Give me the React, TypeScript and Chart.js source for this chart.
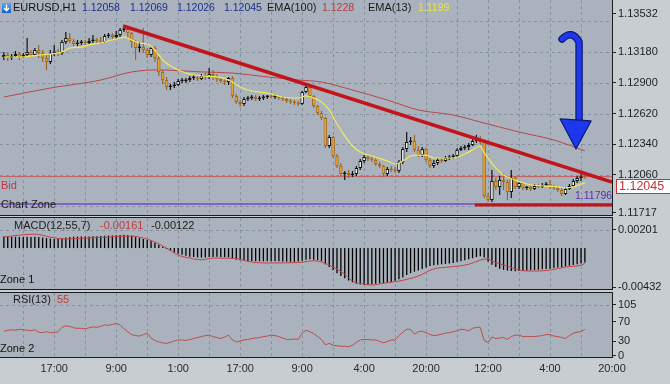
import { useEffect, useRef } from 'react';
import { Chart, registerables } from 'chart.js';

Chart.register(...registerables);

// ---------------- data ----------------
const X_MIN = 0;
const X_MAX = 158;

const timeLabels = ['17:00', '9:00', '1:00', '17:00', '9:00', '4:00', '20:00', '12:00', '4:00', '20:00'];
const timeLabelIdx = [14, 30, 46, 62, 78, 94, 110, 126, 142, 158];
const gridIdx = [6, 14, 22, 30, 38, 46, 54, 62, 70, 78, 86, 94, 102, 110, 118, 126, 134, 142, 150, 158];

const openP = [
  1.13136, 1.13154, 1.13127, 1.13145, 1.13164, 1.13136, 1.13154, 1.13182, 1.13154, 1.132,
  1.13173, 1.13127, 1.13091, 1.13173, 1.13182, 1.13173, 1.13273, 1.13309, 1.13282, 1.13255,
  1.13264, 1.13273, 1.13264, 1.13282, 1.13291, 1.13282, 1.13273, 1.13328, 1.13337, 1.13319,
  1.13337, 1.13382, 1.13392, 1.13355, 1.13273, 1.13218, 1.13227, 1.132, 1.13154, 1.13218,
  1.13127, 1.13, 1.12926, 1.12863, 1.12872, 1.12881, 1.12917, 1.12917, 1.12926, 1.12945,
  1.12945, 1.12936, 1.12963, 1.12954, 1.12981, 1.12963, 1.12936, 1.12917, 1.12908, 1.12945,
  1.12781, 1.12726, 1.12708, 1.12753, 1.12762, 1.12771, 1.12753, 1.12762, 1.12771, 1.12781,
  1.12771, 1.12781, 1.12762, 1.12753, 1.12735, 1.12726, 1.12717, 1.12708, 1.12817, 1.12863,
  1.12781, 1.12689, 1.12625, 1.1258, 1.12324, 1.12406, 1.12233, 1.12142, 1.12069, 1.12078,
  1.1206, 1.12069, 1.12124, 1.12188, 1.12224, 1.12206, 1.12197, 1.1216, 1.12142, 1.12069,
  1.12115, 1.12106, 1.12097, 1.12179, 1.12297, 1.12361, 1.1237, 1.12288, 1.12242, 1.12297,
  1.12197, 1.12142, 1.1217, 1.12197, 1.12188, 1.12215, 1.12224, 1.12233, 1.12288, 1.12306,
  1.12315, 1.12334, 1.1237, 1.12379, 1.12361, 1.11869, 1.11832, 1.12005, 1.11951, 1.12014,
  1.11996, 1.11905, 1.12033, 1.11951, 1.11987, 1.11942, 1.11951, 1.11932, 1.1196, 1.11951,
  1.11969, 1.11978, 1.11951, 1.11942, 1.11923, 1.11887, 1.11932, 1.1196, 1.12005, 1.12033,
  1.12058,
];
const highP = [
  1.13182, 1.13173, 1.13164, 1.13191, 1.13182, 1.13173, 1.13309, 1.132, 1.13218, 1.13246,
  1.132, 1.13154, 1.132, 1.13246, 1.13209, 1.13291, 1.13364, 1.13355, 1.133, 1.13291,
  1.13291, 1.13291, 1.13309, 1.13337, 1.13309, 1.13319, 1.13346, 1.13355, 1.13355, 1.13373,
  1.13401, 1.13428, 1.1341, 1.13364, 1.13291, 1.13273, 1.13401, 1.13218, 1.13236, 1.13236,
  1.13145, 1.13018, 1.12954, 1.1289, 1.12908, 1.12936, 1.12945, 1.12945, 1.12963, 1.12972,
  1.12972, 1.12981, 1.1299, 1.13036, 1.13018, 1.12981, 1.12954, 1.12945, 1.12954, 1.12963,
  1.12799, 1.12744, 1.12771, 1.12781, 1.1279, 1.1279, 1.12781, 1.1279, 1.1279, 1.12799,
  1.12799, 1.1279, 1.12781, 1.12771, 1.12753, 1.12744, 1.12735, 1.12826, 1.12881, 1.12872,
  1.1279, 1.12698, 1.12644, 1.12589, 1.12425, 1.12416, 1.12252, 1.1217, 1.12097, 1.12106,
  1.12097, 1.12142, 1.12206, 1.12242, 1.12242, 1.12233, 1.12215, 1.12179, 1.12151, 1.12133,
  1.12142, 1.12133, 1.12197, 1.12315, 1.12452, 1.12406, 1.12425, 1.12324, 1.12315, 1.12306,
  1.12215, 1.12197, 1.12215, 1.12224, 1.12233, 1.12242, 1.12252, 1.12306, 1.12324, 1.12334,
  1.12352, 1.12388, 1.12425, 1.12416, 1.1237, 1.11896, 1.12106, 1.12033, 1.12051, 1.12078,
  1.12014, 1.12106, 1.12051, 1.12005, 1.11996, 1.1196, 1.1196, 1.11978, 1.11978, 1.11987,
  1.11996, 1.12014, 1.11969, 1.1196, 1.11942, 1.11951, 1.11978, 1.12024, 1.12051, 1.12069,
  1.12069,
];
const lowP = [
  1.13109, 1.131, 1.13109, 1.13136, 1.13109, 1.13127, 1.13136, 1.13136, 1.13145, 1.13127,
  1.13091, 1.13018, 1.13072, 1.13145, 1.13145, 1.13154, 1.13255, 1.13264, 1.13236, 1.13236,
  1.13246, 1.13246, 1.13255, 1.13264, 1.13264, 1.13255, 1.13264, 1.13309, 1.133, 1.133,
  1.13319, 1.13364, 1.13309, 1.13218, 1.13109, 1.13182, 1.13173, 1.13127, 1.13136, 1.13091,
  1.12963, 1.1289, 1.12835, 1.12835, 1.12853, 1.12872, 1.12899, 1.12899, 1.12908, 1.12926,
  1.12917, 1.12926, 1.12926, 1.12936, 1.12926, 1.12908, 1.12899, 1.12881, 1.12881, 1.12762,
  1.12708, 1.1268, 1.12689, 1.12735, 1.12744, 1.12735, 1.12735, 1.12744, 1.12753, 1.12762,
  1.12753, 1.12744, 1.12735, 1.12717, 1.12708, 1.12698, 1.12689, 1.12698, 1.12808, 1.12762,
  1.12671, 1.12607, 1.12562, 1.12306, 1.12306, 1.12215, 1.12124, 1.12051, 1.12014, 1.12033,
  1.12042, 1.12051, 1.12106, 1.1217, 1.12188, 1.12179, 1.12142, 1.12124, 1.12042, 1.12051,
  1.12088, 1.12078, 1.12078, 1.1216, 1.1227, 1.12334, 1.1227, 1.12224, 1.12224, 1.12179,
  1.12124, 1.12124, 1.12151, 1.1217, 1.12179, 1.12197, 1.12206, 1.12215, 1.12279, 1.12288,
  1.12288, 1.12324, 1.12352, 1.12343, 1.1185, 1.11814, 1.11814, 1.11923, 1.11878, 1.11923,
  1.11832, 1.1185, 1.11932, 1.11932, 1.11923, 1.11923, 1.11914, 1.11923, 1.11942, 1.11942,
  1.1196, 1.11932, 1.11923, 1.11905, 1.11869, 1.11878, 1.11923, 1.11951, 1.11987, 1.12005,
  1.12026,
];
const closeP = [
  1.13154, 1.13127, 1.13145, 1.13164, 1.13136, 1.13154, 1.13182, 1.13154, 1.132, 1.13173,
  1.13127, 1.13091, 1.13173, 1.13182, 1.13173, 1.13273, 1.13309, 1.13282, 1.13255, 1.13264,
  1.13273, 1.13264, 1.13282, 1.13291, 1.13282, 1.13273, 1.13328, 1.13337, 1.13319, 1.13337,
  1.13382, 1.13392, 1.13355, 1.13273, 1.13218, 1.13227, 1.132, 1.13154, 1.13218, 1.13127,
  1.13, 1.12926, 1.12863, 1.12872, 1.12881, 1.12917, 1.12917, 1.12926, 1.12945, 1.12945,
  1.12936, 1.12963, 1.12954, 1.12981, 1.12963, 1.12936, 1.12917, 1.12908, 1.12945, 1.12781,
  1.12726, 1.12708, 1.12753, 1.12762, 1.12771, 1.12753, 1.12762, 1.12771, 1.12781, 1.12771,
  1.12781, 1.12762, 1.12753, 1.12735, 1.12726, 1.12717, 1.12708, 1.12817, 1.12863, 1.12781,
  1.12689, 1.12625, 1.1258, 1.12324, 1.12406, 1.12233, 1.12142, 1.12069, 1.12078, 1.1206,
  1.12069, 1.12124, 1.12188, 1.12224, 1.12206, 1.12197, 1.1216, 1.12142, 1.12069, 1.12115,
  1.12106, 1.12097, 1.12179, 1.12297, 1.12361, 1.1237, 1.12288, 1.12242, 1.12297, 1.12197,
  1.12142, 1.1217, 1.12197, 1.12188, 1.12215, 1.12224, 1.12233, 1.12288, 1.12306, 1.12315,
  1.12334, 1.1237, 1.12379, 1.12361, 1.11869, 1.11832, 1.12005, 1.11951, 1.12014, 1.11996,
  1.11905, 1.12033, 1.11951, 1.11987, 1.11942, 1.11951, 1.11932, 1.1196, 1.11951, 1.11969,
  1.11978, 1.11951, 1.11942, 1.11923, 1.11887, 1.11932, 1.1196, 1.12005, 1.12033, 1.12042,
  1.12045,
];

const ema13Idx = [1, 5, 10, 15, 16, 18, 21, 23, 26, 28, 31, 32, 34, 36, 38, 40, 42, 45, 48, 52, 56, 59, 62, 65, 69, 73, 77, 79, 81, 83, 85, 87, 89, 91, 93, 96, 100, 102, 104, 106, 108, 110, 112, 114, 117, 120, 122, 124, 125, 126, 128, 130, 133, 136, 140, 144, 146, 148, 150, 151];
const ema13Val = [
  1.13136, 1.13136, 1.13154, 1.13173, 1.13182, 1.13218, 1.13227, 1.13246, 1.13264, 1.13282,
  1.13309, 1.13319, 1.13291, 1.13264, 1.13255, 1.132, 1.13109, 1.13036, 1.1299, 1.12963,
  1.12954, 1.12926, 1.12863, 1.12826, 1.12808, 1.12771, 1.12762, 1.12781, 1.12762, 1.12726,
  1.12653, 1.12525, 1.12416, 1.12324, 1.1227, 1.12233, 1.12188, 1.1216, 1.12188, 1.12233,
  1.12242, 1.12242, 1.12215, 1.12215, 1.12215, 1.12252, 1.12288, 1.12324, 1.12261, 1.12215,
  1.12124, 1.1206, 1.12014, 1.11978, 1.1196, 1.11951, 1.11942, 1.11951, 1.11978, 1.1199,
];
const ema100Idx = [1, 13, 26, 34, 41, 52, 60, 69, 77, 83, 91, 100, 108, 117, 124, 134, 143, 151];
const ema100Val = [1.12771, 1.12853, 1.12926, 1.13, 1.13018, 1.13, 1.1299, 1.12954, 1.12926, 1.12908, 1.12835, 1.12744, 1.12653, 1.12607, 1.12543, 1.12452, 1.12379, 1.1228];

const trendIdx = [31.8, 158];
const trendVal = [1.13419, 1.11996];
const supportIdx = [122.6, 158];
const supportVal = [1.11786, 1.11786];
const bidLevel = 1.12045;
const zoneLevel = 1.11796;

const priceTicks = [1.13532, 1.1318, 1.129, 1.1262, 1.1234, 1.1206, 1.11717];
const priceGrid = [1.1178, 1.1206, 1.1234, 1.1262, 1.129, 1.1318, 1.1346];

const arrowShaftIdx = [145.1, 147.7, 149.5, 149.5];
const arrowShaftVal = [1.133, 1.13392, 1.13273, 1.12553];
const arrowHeadIdx = [144.6, 152.6, 148.7];
const arrowHeadVal = [1.12571, 1.12553, 1.12297];

const macdHist = [
  0.0013, 0.00128, 0.00126, 0.00125, 0.00124, 0.00122, 0.00125, 0.00124, 0.00126, 0.00122, 0.00118,
  0.00112, 0.00106, 0.00102, 0.001, 0.00108, 0.00118, 0.00124, 0.00126,
  0.00128, 0.00128, 0.00129, 0.0013, 0.00131, 0.00132, 0.00134, 0.00137, 0.00139, 0.00141, 0.00143, 0.00146, 0.00148, 0.00145,
  0.00136, 0.00124, 0.00112, 0.001, 0.0009, 0.00078, 0.0006, 0.00038, 0.00015, -0.0001,
  -0.0003, -0.00048, -0.00062, -0.00075, -0.00086, -0.00095, -0.001, -0.00104,
  -0.00106, -0.00104, -0.001, -0.00098, -0.00097, -0.00098, -0.001, -0.00102,
  -0.00115, -0.00128, -0.00136, -0.0014, -0.00142, -0.00144, -0.00145, -0.00146, -0.00147, -0.00147, -0.00146, -0.00146, -0.00147, -0.00149, -0.00151, -0.00152, -0.00152, -0.0015,
  -0.0014, -0.00128, -0.00125, -0.00128, -0.00135, -0.00145,
  -0.0018, -0.0021, -0.00245, -0.0028, -0.0031, -0.00335, -0.0036, -0.0038, -0.00395,
  -0.00405, -0.0041, -0.00408, -0.004, -0.00395,
  -0.00392, -0.0039, -0.00385, -0.00375, -0.00362, -0.00345, -0.00325, -0.003, -0.00278, -0.00262, -0.00248, -0.00232, -0.00215, -0.002, -0.0019,
  -0.00185, -0.0018, -0.00175, -0.0017, -0.00165, -0.00155, -0.00145, -0.00135, -0.00125, -0.00112, -0.001, -0.0009,
  -0.00105, -0.0015, -0.00185, -0.0021, -0.0023, -0.00242, -0.0025, -0.00255, -0.00256,
  -0.00255, -0.00253, -0.0025, -0.00247, -0.00244, -0.0024, -0.00236, -0.00232, -0.00228, -0.00222,
  -0.00216, -0.0021, -0.00204, -0.00196, -0.00188, -0.0018, -0.0017, -0.00161,
];
const signalIdx = [1, 5, 9, 13, 17, 22, 28, 34, 36, 40, 43, 46, 49, 52, 55, 60, 65, 69, 77, 81, 83, 86, 89, 91, 94, 96, 99, 103, 108, 112, 116, 121, 124, 126, 127, 131, 134, 138, 142, 146, 150, 151];
const signalVal = [
  0.00122, 0.00144, 0.00155, 0.00122, 0.001, 0.00111, 0.00122, 0.00133, 0.00122, 0.00067,
  0, -0.00078, -0.00111, -0.0013, -0.00111, -0.00112, -0.00155, -0.00165, -0.0016, -0.0014,
  -0.00155, -0.0021, -0.0029, -0.00366, -0.004, -0.0041, -0.0039, -0.00366, -0.0031, -0.0023,
  -0.0021, -0.0018, -0.00133, -0.0012, -0.00144, -0.002, -0.00244, -0.00255, -0.00244, -0.0021,
  -0.0019, -0.0017,
];
const macdTicks = [0.00201, -0.00432];
const macdGrid = [0.00201];

const rsiVal = [
  51, 53, 54, 53, 55, 54, 53, 52, 54, 49,
  48, 50, 48, 48, 50, 59, 62, 61, 58, 57,
  57, 56, 58, 60, 59, 61, 64, 63, 65, 67,
  64, 56, 50, 44, 42, 41, 44, 47, 37, 32,
  29, 27, 26, 28, 31, 33, 33, 32, 34, 36,
  38, 40, 42, 43, 40, 38, 36, 39, 43, 33,
  29, 31, 33, 34, 36, 37, 38, 40, 41, 43,
  42, 40, 37, 34, 34, 35, 34, 47, 53, 50,
  46, 40, 34, 23, 26, 22, 21, 20, 20, 19,
  22, 28, 33, 34, 34, 33, 33, 30, 27, 30,
  33, 33, 42, 49, 55, 55, 45, 50, 51, 48,
  44, 42, 43, 45, 47, 48, 50, 52, 55, 54,
  52, 57, 59, 59, 32, 28, 39, 36, 37, 38,
  34, 40, 43, 43, 40, 40, 40, 40, 41, 42,
  44, 44, 41, 40, 38, 36, 42, 47, 49, 50, 55,
];
const rsiTicks = [105, 70, 30, 0];
const rsiGrid = [105];

// ---------------- style ----------------
const FONT = '"Liberation Sans", Arial, sans-serif';
const NARROW = '"Liberation Sans Narrow", "Liberation Sans", Arial, sans-serif';
const AREA_BG = '#aab3bd';
const PAGE_BG = '#c8cdd2';
const GRID = '#86929f';
const FRAME = '#1c1c1c';

const candleIdx = closeP.map((_, k) => k + 1);
const bull = closeP.map((c, k) => c >= openP[k]);

function xScale(showLabels: boolean): any {
  return {
    type: 'linear',
    min: X_MIN,
    max: X_MAX,
    offset: false,
    grid: { display: false, drawTicks: false, offset: false },
    border: { display: false },
    ticks: showLabels
      ? {
          display: true,
          autoSkip: false,
          maxRotation: 0,
          minRotation: 0,
          padding: 5,
          color: '#2a2a2a',
          font: { family: NARROW, size: 11 },
          callback: (v: number) => {
            const k = timeLabelIdx.indexOf(v);
            return k >= 0 ? timeLabels[k] : '';
          },
        }
      : { display: false },
    afterBuildTicks: (s: any) => {
      s.ticks = gridIdx.map((v) => ({ value: v }));
    },
    afterFit: (s: any) => {
      s.height = showLabels ? 27 : 0;
      s.paddingLeft = 0;
      s.paddingRight = 0;
      s.paddingTop = 0;
      s.paddingBottom = 0;
    },
  };
}

function yScale(min: number, max: number, ticks: number[], fmt: (v: number) => string, family: string): any {
  return {
    type: 'linear',
    position: 'right',
    min,
    max,
    afterBuildTicks: (s: any) => {
      s.ticks = ticks.map((v) => ({ value: v }));
    },
    ticks: { callback: (v: number) => fmt(v), color: '#1e1e1e', font: { family, size: 11 }, padding: 2, autoSkip: false },
    grid: { display: true, drawOnChartArea: false, drawTicks: true, tickLength: 4, color: '#222', lineWidth: 1 },
    border: { display: false },
    afterFit: (s: any) => {
      s.width = 58;
      s.paddingTop = 0;
      s.paddingBottom = 0;
      s.paddingLeft = 0;
      s.paddingRight = 0;
    },
  };
}

const bgPlugin = {
  id: 'areaBg',
  beforeDraw(chart: any) {
    const { ctx, chartArea: a } = chart;
    ctx.save();
    ctx.fillStyle = AREA_BG;
    ctx.fillRect(a.left, a.top, a.right - a.left, a.bottom - a.top);
    ctx.restore();
  },
};

function gridPlugin(hVals: number[]) {
  return {
    id: 'dashGrid',
    beforeDatasetsDraw(chart: any) {
      const { ctx, chartArea: a, scales } = chart;
      ctx.save();
      ctx.strokeStyle = GRID;
      ctx.lineWidth = 1;
      ctx.setLineDash([3, 3]);
      ctx.beginPath();
      gridIdx.forEach((v) => {
        const px = Math.round(scales.x.getPixelForValue(v)) + 0.5;
        if (px >= a.right) return;
        ctx.moveTo(px, a.top);
        ctx.lineTo(px, a.bottom);
      });
      hVals.forEach((v) => {
        const py = Math.round(scales.y.getPixelForValue(v)) + 0.5;
        ctx.moveTo(a.left, py);
        ctx.lineTo(a.right, py);
      });
      ctx.stroke();
      ctx.restore();
    },
  };
}

function framePlugin(drawTop: boolean) {
  return {
    id: 'frame',
    afterDraw(chart: any) {
      const { ctx, chartArea: a } = chart;
      ctx.save();
      ctx.strokeStyle = FRAME;
      ctx.lineWidth = 1;
      ctx.beginPath();
      const top = drawTop ? a.top - 0.5 : 0;
      ctx.moveTo(a.right + 0.5, top);
      ctx.lineTo(a.right + 0.5, a.bottom + 0.5);
      ctx.moveTo(0, a.bottom + 0.5);
      ctx.lineTo(a.right + 1, a.bottom + 0.5);
      if (drawTop) {
        ctx.moveTo(0, a.top - 0.5);
        ctx.lineTo(a.right + 1, a.top - 0.5);
      }
      ctx.stroke();
      ctx.restore();
    },
  };
}

function txt(ctx: CanvasRenderingContext2D, s: string, x: number, y: number, color: string, size = 11, family = FONT) {
  ctx.fillStyle = color;
  ctx.font = `${size}px ${family}`;
  ctx.textBaseline = 'middle';
  ctx.textAlign = 'left';
  ctx.fillText(s, x, y);
}

const mainOverlay = {
  id: 'mainOverlay',
  afterDatasetsDraw(chart: any) {
    const { ctx, scales } = chart;
    const px = (v: number) => scales.x.getPixelForValue(v);
    const py = (v: number) => scales.y.getPixelForValue(v);
    const shaft = () => {
      ctx.beginPath();
      ctx.moveTo(px(arrowShaftIdx[0]), py(arrowShaftVal[0]));
      ctx.quadraticCurveTo(px(arrowShaftIdx[1]), py(arrowShaftVal[1]), px(arrowShaftIdx[2]), py(arrowShaftVal[2]));
      ctx.lineTo(px(arrowShaftIdx[3]), py(arrowShaftVal[3]));
    };
    ctx.save();
    ctx.lineCap = 'round';
    ctx.lineJoin = 'round';
    shaft();
    ctx.strokeStyle = '#0d1a78';
    ctx.lineWidth = 7.5;
    ctx.stroke();
    shaft();
    ctx.strokeStyle = '#1d38ec';
    ctx.lineWidth = 5;
    ctx.stroke();
    ctx.beginPath();
    arrowHeadIdx.forEach((v, k) => {
      if (k === 0) ctx.moveTo(px(v), py(arrowHeadVal[k]));
      else ctx.lineTo(px(v), py(arrowHeadVal[k]));
    });
    ctx.closePath();
    ctx.fillStyle = '#1d38ec';
    ctx.fill();
    ctx.strokeStyle = '#0d1a78';
    ctx.lineWidth = 1.2;
    ctx.stroke();
    ctx.restore();
  },
  afterDraw(chart: any) {
    const { ctx, scales } = chart;
    ctx.save();
    const g = ctx.createLinearGradient(0, 3, 0, 13);
    g.addColorStop(0, '#5aa6ee');
    g.addColorStop(1, '#1f5fbf');
    ctx.fillStyle = g;
    ctx.fillRect(2, 3, 9, 10);
    ctx.strokeStyle = '#ffffff';
    ctx.lineWidth = 1.4;
    ctx.beginPath();
    ctx.moveTo(6.5, 4.5);
    ctx.lineTo(6.5, 10.5);
    ctx.moveTo(4, 8);
    ctx.lineTo(6.5, 10.8);
    ctx.lineTo(9, 8);
    ctx.stroke();
    txt(ctx, 'EURUSD,H1', 13, 8, '#111111', 11);
    txt(ctx, '1.12058', 82, 8, '#1e2d8c', 10.5);
    txt(ctx, '1.12069', 130, 8, '#1e2d8c', 10.5);
    txt(ctx, '1.12026', 177, 8, '#1e2d8c', 10.5);
    txt(ctx, '1.12045', 224, 8, '#1e2d8c', 10.5);
    txt(ctx, 'EMA(100)', 267, 8, '#1a1a1a', 11);
    txt(ctx, '1.1228', 322, 8, '#b83a3a', 10.5);
    txt(ctx, 'EMA(13)', 368, 8, '#1a1a1a', 11);
    txt(ctx, '1.1199', 418, 8, '#e8e43c', 10.5);
    const by = Math.round(scales.y.getPixelForValue(bidLevel));
    const zy = Math.round(scales.y.getPixelForValue(zoneLevel));
    txt(ctx, 'Bid', 1, by + 9, '#c03a3a', 11);
    txt(ctx, 'Chart Zone', 1, zy + 1, '#202020', 11);
    txt(ctx, '1.11796', 575, zy - 8, '#5a2eb0', 10.5);
    ctx.fillStyle = '#ffffff';
    ctx.fillRect(616.5, by + 2.5, 56, 14);
    ctx.strokeStyle = '#c83232';
    ctx.lineWidth = 1;
    ctx.strokeRect(616.5, by + 2.5, 56, 14);
    txt(ctx, '1.12045', 619, by + 10, '#c83232', 12.5);
    ctx.restore();
  },
};

const macdOverlay = {
  id: 'macdOverlay',
  afterDraw(chart: any) {
    const { ctx } = chart;
    ctx.save();
    txt(ctx, 'MACD(12,55,7)', 14, 9, '#1a1a1a', 11);
    txt(ctx, '-0.00161', 100, 9, '#c03a3a', 11);
    txt(ctx, '-0.00122', 151, 9, '#1a1a1a', 11);
    txt(ctx, 'Zone 1', 0, 63, '#111111', 11);
    ctx.restore();
  },
};

const rsiOverlay = {
  id: 'rsiOverlay',
  afterDraw(chart: any) {
    const { ctx } = chart;
    ctx.save();
    txt(ctx, 'RSI(13)', 13, 10, '#1a1a1a', 11);
    txt(ctx, '55', 57, 10, '#c03a3a', 11);
    txt(ctx, 'Zone 2', 0, 59, '#111111', 11);
    ctx.restore();
  },
};

const common: any = {
  responsive: false,
  maintainAspectRatio: false,
  animation: false,
  events: [],
  plugins: { legend: { display: false }, tooltip: { enabled: false } },
};

function mainConfig(): any {
  return {
    type: 'bar',
    data: {
      datasets: [
        {
          type: 'line',
          data: trendIdx.map((x, k) => ({ x, y: trendVal[k] })),
          borderColor: '#c3141c',
          borderWidth: 3.5,
          pointRadius: 0,
          order: 0,
        },
        {
          type: 'line',
          data: supportIdx.map((x, k) => ({ x, y: supportVal[k] })),
          borderColor: '#c3141c',
          borderWidth: 3,
          pointRadius: 0,
          order: 0,
        },
        {
          type: 'line',
          data: ema13Idx.map((x, k) => ({ x, y: ema13Val[k] })),
          borderColor: '#f0ec55',
          borderWidth: 1.2,
          pointRadius: 0,
          cubicInterpolationMode: 'monotone',
          order: 1,
        },
        {
          type: 'bar',
          data: candleIdx.map((x, k) => ({ x, y: [openP[k], closeP[k]] })),
          backgroundColor: bull.map((b) => (b ? '#f4f4ef' : '#e8a030')),
          borderColor: bull.map((b) => (b ? '#111111' : '#a86a1c')),
          borderWidth: 1,
          borderSkipped: false,
          barThickness: 3.5,
          minBarLength: 1.5,
          inflateAmount: 0,
          grouped: false,
          order: 2,
        },
        {
          type: 'bar',
          data: candleIdx.map((x, k) => ({ x, y: [lowP[k], highP[k]] })),
          backgroundColor: bull.map((b) => (b ? '#111111' : '#9a6524')),
          borderWidth: 0,
          barThickness: 1.2,
          inflateAmount: 0,
          grouped: false,
          order: 3,
        },
        {
          type: 'line',
          data: ema100Idx.map((x, k) => ({ x, y: ema100Val[k] })),
          borderColor: '#b5474a',
          borderWidth: 1,
          pointRadius: 0,
          cubicInterpolationMode: 'monotone',
          order: 4,
        },
        {
          type: 'line',
          data: [
            { x: X_MIN, y: bidLevel },
            { x: X_MAX, y: bidLevel },
          ],
          borderColor: '#c65a5a',
          borderWidth: 1,
          pointRadius: 0,
          order: 5,
        },
        {
          type: 'line',
          data: [
            { x: X_MIN, y: zoneLevel },
            { x: X_MAX, y: zoneLevel },
          ],
          borderColor: '#7a44c6',
          borderWidth: 1.5,
          pointRadius: 0,
          order: 5,
        },
      ],
    },
    options: {
      ...common,
      layout: { padding: { top: 0, bottom: 2, left: 0, right: 0 } },
      scales: {
        x: xScale(false),
        y: yScale(1.11695, 1.13656, priceTicks, (v) => v.toFixed(5), FONT),
      },
    },
    plugins: [bgPlugin, gridPlugin(priceGrid), framePlugin(false), mainOverlay],
  };
}

function macdConfig(): any {
  return {
    type: 'bar',
    data: {
      datasets: [
        {
          type: 'line',
          data: signalIdx.map((x, k) => ({ x, y: signalVal[k] })),
          borderColor: '#c24444',
          borderWidth: 1,
          pointRadius: 0,
          cubicInterpolationMode: 'monotone',
          order: 0,
        },
        {
          type: 'bar',
          data: candleIdx.map((x, k) => ({ x, y: macdHist[k] })),
          backgroundColor: '#000000',
          borderWidth: 0,
          barThickness: 1.3,
          inflateAmount: 0,
          grouped: false,
          order: 1,
        },
      ],
    },
    options: {
      ...common,
      layout: { padding: { top: 1, bottom: 1, left: 0, right: 0 } },
      scales: {
        x: xScale(false),
        y: yScale(-0.00454, 0.00334, macdTicks, (v) => v.toFixed(5), FONT),
      },
    },
    plugins: [bgPlugin, gridPlugin(macdGrid), framePlugin(true), macdOverlay],
  };
}

function rsiConfig(): any {
  return {
    type: 'line',
    data: {
      datasets: [
        {
          data: candleIdx.map((x, k) => ({ x, y: rsiVal[k] })),
          borderColor: '#c24a4a',
          borderWidth: 1,
          pointRadius: 0,
        },
      ],
    },
    options: {
      ...common,
      layout: { padding: { top: 3, bottom: 0, left: 0, right: 0 } },
      scales: {
        x: xScale(true),
        y: yScale(-2.06, 129.7, rsiTicks, (v) => String(v), NARROW),
      },
    },
    plugins: [bgPlugin, gridPlugin(rsiGrid), framePlugin(true), rsiOverlay],
  };
}

export default function App() {
  const mainRef = useRef<HTMLCanvasElement>(null);
  const macdRef = useRef<HTMLCanvasElement>(null);
  const rsiRef = useRef<HTMLCanvasElement>(null);

  useEffect(() => {
    document.body.style.margin = '0';
    const charts = [
      new Chart(mainRef.current as HTMLCanvasElement, mainConfig()),
      new Chart(macdRef.current as HTMLCanvasElement, macdConfig()),
      new Chart(rsiRef.current as HTMLCanvasElement, rsiConfig()),
    ];
    return () => charts.forEach((c) => c.destroy());
  }, []);

  const cs = (top: number, h: number): any => ({ position: 'absolute', left: 0, top, width: 670, height: h, display: 'block' });

  return (
    <div style={{ position: 'fixed', left: 0, top: 0, width: 670, height: 384, background: PAGE_BG, overflow: 'hidden' }}>
      <canvas ref={mainRef} width={670} height={217} style={cs(0, 217)} />
      <canvas ref={macdRef} width={670} height={73} style={cs(217, 73)} />
      <canvas ref={rsiRef} width={670} height={94} style={cs(290, 94)} />
    </div>
  );
}
